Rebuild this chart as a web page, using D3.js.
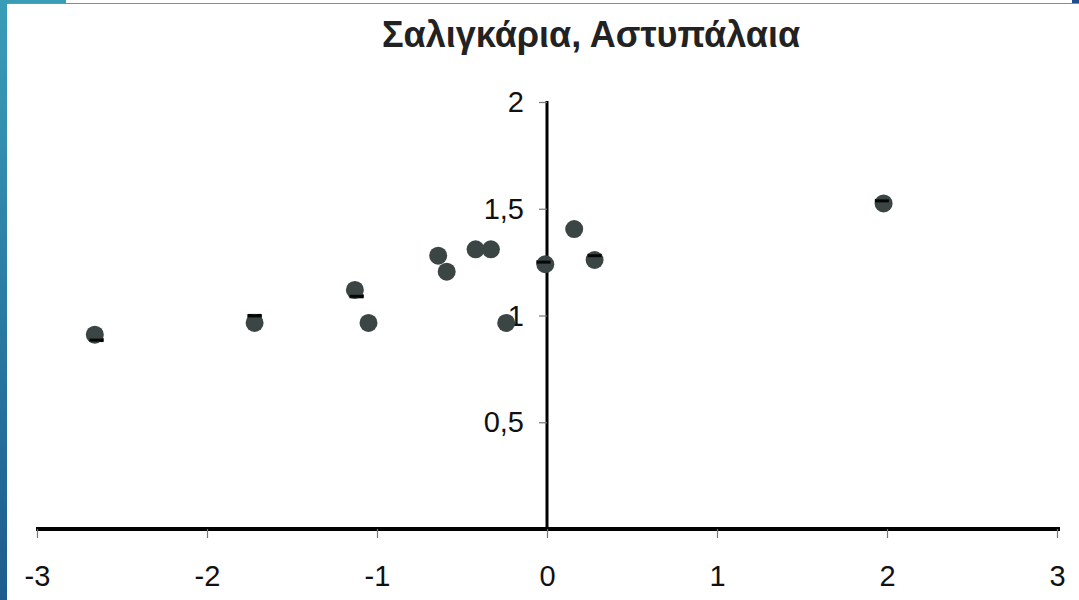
<!DOCTYPE html>
<html>
<head>
<meta charset="utf-8">
<script src="https://cdn.jsdelivr.net/npm/d3@7"></script>
<style>
  html, body { margin: 0; padding: 0; background: #fff; }
  svg { display: block; }
  text { font-family: "Liberation Sans", Arial, sans-serif; }
</style>
</head>
<body>
<svg id="chart" width="1079" height="600"></svg>
<script>
// Snail measurements, Astypalaia
const xValues = [-2.66, -1.72, -1.13, -1.05, -0.64, -0.59, -0.42, -0.33, -0.24, -0.01, 0.16, 0.28, 1.98];
const yValues = [0.91, 0.965, 1.12, 0.965, 1.28, 1.205, 1.31, 1.31, 0.965, 1.24, 1.405, 1.26, 1.525];

// Second series drawn as short dash markers (mostly hidden under the dots)
const dashX = [-2.65, -1.72, -1.12, -0.02, 0.28, 1.97];
const dashY = [0.885, 0.998, 1.09, 1.25, 1.28, 1.537];

const xTicks = [-3, -2, -1, 0, 1, 2, 3];
const yTicks = [0.5, 1, 1.5, 2];
const titleText = "Σαλιγκάρια, Αστυπάλαια";

const svg = d3.select("#chart");
const W = 1079, H = 600;

// slide frame: gradient bar on the left, thin rule across the top
const defs = svg.append("defs");
const grad = defs.append("linearGradient").attr("id", "sideGrad")
  .attr("x1", 0).attr("y1", 0).attr("x2", 0).attr("y2", 1);
grad.append("stop").attr("offset", "0%").attr("stop-color", "#3a9db8");
grad.append("stop").attr("offset", "100%").attr("stop-color", "#1d5b8e");
svg.append("rect").attr("x", 0).attr("y", 0).attr("width", 7).attr("height", H)
  .attr("fill", "url(#sideGrad)");
svg.append("rect").attr("x", 0).attr("y", 0).attr("width", 66).attr("height", 3)
  .attr("fill", "#3a9db8");
svg.append("rect").attr("x", W - 7).attr("y", 0).attr("width", 7).attr("height", 3)
  .attr("fill", "#1d4f8e");
svg.append("line").attr("x1", 7).attr("x2", W).attr("y1", 3.5).attr("y2", 3.5)
  .attr("stroke", "#8a8a8a").attr("stroke-width", 1.2);

// scales
const x = d3.scaleLinear().domain([-3, 3]).range([37, 1057]);
const y = d3.scaleLinear().domain([0, 2]).range([529, 102]);

// title
svg.append("text")
  .attr("x", 591).attr("y", 47)
  .attr("text-anchor", "middle")
  .attr("font-size", 36).attr("font-weight", "bold")
  .attr("fill", "#222")
  .text(titleText);

// x axis through y = 0
const xAxis = svg.append("g").attr("transform", `translate(0,${y(0)})`)
  .call(d3.axisBottom(x).tickValues(xTicks).tickSize(9).tickSizeOuter(0));
xAxis.select(".domain").attr("stroke", "#000").attr("stroke-width", 4)
  .attr("d", `M${x(-3) - 1},0H${x(3) + 3}`);
xAxis.selectAll(".tick line").attr("stroke", "#777").attr("stroke-width", 1.2);
xAxis.selectAll(".tick text")
  .attr("font-size", 29).attr("fill", "#111").attr("dy", 0).attr("y", 57)
  .text(d => (d < 0 ? "-" + Math.abs(d) : String(d)));

// y axis through x = 0
const yAxis = svg.append("g").attr("transform", `translate(${x(0)},0)`)
  .call(d3.axisLeft(y).tickValues(yTicks).tickSize(8).tickSizeOuter(0)
    .tickFormat(d => String(d).replace(".", ",")));
yAxis.select(".domain").attr("stroke", "#000").attr("stroke-width", 3)
  .attr("d", `M0,${y(2) - 1}V${y(0)}`);
yAxis.selectAll(".tick line").attr("stroke", "#777").attr("stroke-width", 1.2);
yAxis.selectAll(".tick text")
  .attr("font-size", 29).attr("fill", "#111").attr("x", -23).attr("dy", "0.33em");

// dash markers
svg.append("g").selectAll("rect").data(dashX.map((d, i) => [d, dashY[i]]))
  .join("rect")
  .attr("x", d => x(d[0]) - 7).attr("y", d => y(d[1]) - 2)
  .attr("width", 14).attr("height", 4)
  .attr("fill", "#000");

// dots
svg.append("g").selectAll("circle").data(xValues.map((d, i) => [d, yValues[i]]))
  .join("circle")
  .attr("cx", d => x(d[0])).attr("cy", d => y(d[1]))
  .attr("r", 9)
  .attr("fill", "#3b4644");

// dash markers partly on top of the dots
svg.append("g").selectAll("rect").data(dashX.map((d, i) => [d, dashY[i]]))
  .join("rect")
  .attr("x", d => x(d[0]) - 7).attr("y", d => y(d[1]) - 1.5)
  .attr("width", 14).attr("height", 3)
  .attr("fill", "#000")
  .attr("opacity", 0.9);
</script>
</body>
</html>
